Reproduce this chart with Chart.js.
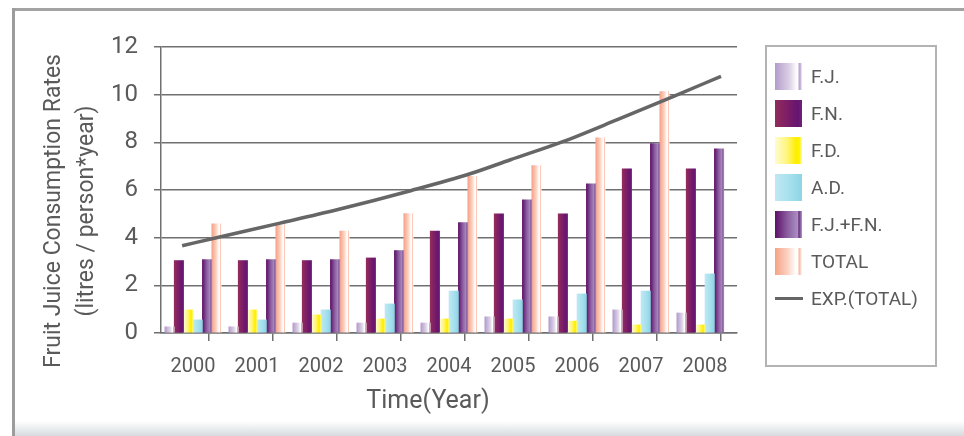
<!DOCTYPE html>
<html>
<head>
<meta charset="utf-8">
<script src="https://cdn.jsdelivr.net/npm/chart.js@4.4.1/dist/chart.umd.min.js"></script>
<style>
  html, body { margin: 0; padding: 0; background: #ffffff; }
  #wrap { position: relative; width: 964px; height: 436px; overflow: hidden; background: #fff; }
  .abs { position: absolute; }
  #c { position: absolute; left: 0; top: 0; }
  .lg-item { position: absolute; left: 775px; height: 27px; font-family: Roboto, sans-serif; font-size: 19px; color: #5a5a5a; }
  .lg-sw { position: absolute; left: 0; top: 0; width: 27px; height: 27px; }
  .lg-tx { position: absolute; left: 36px; top: 0; line-height: 27px; white-space: nowrap; }
</style>
</head>
<body>
<div id="wrap">
  <div class="abs" style="left:13px;top:8px;width:951px;height:3px;background:#a3a3a3;"></div>
  <div class="abs" style="left:12px;top:8px;width:3px;height:428px;background:#9c9c9c;"></div>
  <div class="abs" style="left:15px;top:421px;width:949px;height:15px;background:linear-gradient(#ffffff,#d6dbdf);"></div>
  <div class="abs" style="left:765px;top:45px;width:172px;height:322px;border:2px solid #b3b3b3;box-sizing:border-box;"></div>
  <canvas id="c" width="964" height="436"></canvas>
  <div id="legend"></div>
</div>
<script>
// ---- data ----
const years = ['2000','2001','2002','2003','2004','2005','2006','2007','2008'];
const fjValues    = [0.26, 0.26, 0.42, 0.42, 0.42, 0.68, 0.68, 0.97, 0.84];
const fnValues    = [3.04, 3.04, 3.04, 3.15, 4.28, 5.00, 5.00, 6.89, 6.89];
const fdValues    = [0.97, 0.97, 0.76, 0.59, 0.59, 0.59, 0.50, 0.34, 0.34];
const adValues    = [0.55, 0.55, 0.97, 1.22, 1.76, 1.39, 1.64, 1.76, 2.48];
const fjfnValues  = [3.08, 3.08, 3.08, 3.46, 4.63, 5.59, 6.26, 7.95, 7.73];
const totalValues = [4.58, 4.55, 4.28, 5.01, 6.57, 7.02, 8.19, 10.13, null];
// exponential trend line, read at positions along the year axis (0 = 2000, 8 = 2008)
const expX = [-0.17, 0.40, 1.36, 2.25, 3.40, 4.33, 4.96, 5.79, 6.63, 7.51, 8.25];
const expY = [3.66, 4.02, 4.61, 5.17, 5.97, 6.68, 7.27, 8.04, 8.95, 9.93, 10.77];
const seriesLabels = ['F.J.', 'F.N.', 'F.D.', 'A.D.', 'F.J.+F.N.', 'TOTAL', 'EXP.(TOTAL)'];
const yTicks = [0, 2, 4, 6, 8, 10, 12];
const yTitleLines = ['Fruit Juice Consumption Rates', '(litres / person*year)'];
const xTitle = 'Time(Year)';

// ---- styles ----
const gradStops = [
  [[0,'#b39bcb'],[0.55,'#ddd3e8'],[0.8,'#fdfcfe'],[0.86,'#ffffff'],[0.88,'#b9a2d0'],[0.95,'#c9b8dc'],[1,'#f4f0f8']],
  [[0,'#922c5c'],[0.5,'#7a1c68'],[0.85,'#651570'],[1,'#6f2278']],
  [[0,'#fffbd2'],[0.45,'#fff57a'],[0.78,'#ffee00'],[0.9,'#fff300'],[1,'#fffab0']],
  [[0,'#bfe8f3'],[0.6,'#a3dfec'],[1,'#8ed5e5']],
  [[0,'#5e1068'],[0.45,'#8a5c9f'],[0.85,'#ab90c2'],[0.88,'#6a2a7c'],[0.95,'#8e6aa6'],[1,'#b49acb']],
  [[0,'#f6a285'],[0.45,'#fbd0c0'],[0.78,'#ffffff'],[0.86,'#ffffff'],[0.88,'#f8b39c'],[0.95,'#fbd6c8'],[1,'#ffffff']]
];
const baseColors = ['#c8b8dc','#7a1c68','#fff000','#a3dfec','#8a5c9f','#fbc0a8'];
const barSets = [fjValues, fnValues, fdValues, adValues, fjfnValues, totalValues];

const datasets = barSets.map((vals, i) => ({
  type: 'bar',
  label: seriesLabels[i],
  data: vals.map((v, k) => ({ x: k, y: v })),
  backgroundColor: () => baseColors[i],
  borderWidth: 0,
  barThickness: 9.4,
  order: 1
}));
datasets.push({
  type: 'line',
  label: seriesLabels[6],
  data: expX.map((x, k) => ({ x: x, y: expY[k] })),
  borderColor: '#666666',
  borderWidth: 3.5,
  pointRadius: 0,
  fill: false,
  tension: 0.4,
  cubicInterpolationMode: 'monotone',
  order: 0
});

const gradientPlugin = {
  id: 'barGradients',
  beforeDatasetsDraw(chart) {
    const ctx = chart.ctx;
    chart.data.datasets.forEach((ds, i) => {
      if (ds.type !== 'bar') return;
      const meta = chart.getDatasetMeta(i);
      meta.data.forEach(el => {
        const p = el.getProps(['x', 'width'], true);
        const x0 = p.x - p.width / 2, x1 = p.x + p.width / 2;
        if (!isFinite(x0) || !isFinite(x1)) return;
        const g = ctx.createLinearGradient(x0, 0, x1, 0);
        gradStops[i].forEach(s => g.addColorStop(s[0], s[1]));
        el.options = Object.assign({}, el.options, { backgroundColor: g });
      });
    });
  }
};

const titlePlugin = {
  id: 'axisTitles',
  afterDraw(chart) {
    const ctx = chart.ctx;
    ctx.save();
    ctx.fillStyle = '#5a5a5a';
    ctx.font = '23px Roboto, sans-serif';
    ctx.textAlign = 'center';
    ctx.textBaseline = 'middle';
    const cx = [54, 87];
    yTitleLines.forEach((t, k) => {
      ctx.save();
      ctx.translate(cx[k], 211);
      ctx.rotate(-Math.PI / 2);
      ctx.fillText(t, 0, 0);
      ctx.restore();
    });
    ctx.font = '25px Roboto, sans-serif';
    ctx.fillText(xTitle, 428, 402);
    ctx.restore();
  }
};

const isCenter = v => Math.abs(v - Math.round(v)) < 1e-6;

new Chart(document.getElementById('c'), {
  data: { datasets: datasets },
  plugins: [gradientPlugin, titlePlugin],
  options: {
    responsive: false,
    animation: false,
    devicePixelRatio: 1,
    layout: { padding: { left: 0, top: 47, right: 227, bottom: 0 } },
    plugins: { legend: { display: false }, tooltip: { enabled: false } },
    scales: {
      x: {
        type: 'linear',
        min: -0.5,
        max: years.length - 0.5,
        offset: false,
        afterFit: s => { s.height = 103; },
        afterBuildTicks: s => {
          const t = [];
          for (let k = 0; k <= years.length * 2; k++) t.push({ value: -0.5 + k * 0.5 });
          s.ticks = t;
        },
        grid: {
          display: true, drawOnChartArea: false, drawTicks: true, tickLength: 8,
          tickColor: c => (c.tick && isCenter(c.tick.value)) ? 'rgba(0,0,0,0)' : '#707070',
          color: '#707070', lineWidth: 1.5
        },
        border: { display: true, color: '#707070', width: 1.5 },
        ticks: {
          autoSkip: false, maxRotation: 0, minRotation: 0,
          color: '#5a5a5a', font: { family: 'Roboto, sans-serif', size: 20 }, padding: 14,
          callback: v => isCenter(v) ? years[Math.round(v)] : ''
        }
      },
      y: {
        min: 0,
        max: 12,
        afterFit: s => { s.width = 161; },
        afterBuildTicks: s => { s.ticks = yTicks.map(v => ({ value: v })); },
        grid: { color: '#707070', lineWidth: 1.5, tickLength: 7 },
        border: { display: true, color: '#707070', width: 1.5 },
        ticks: { color: '#5a5a5a', font: { family: 'Roboto, sans-serif', size: 24 }, padding: 16 }
      }
    }
  }
});

// ---- HTML legend ----
const legend = document.getElementById('legend');
seriesLabels.forEach((lab, i) => {
  const item = document.createElement('div');
  item.className = 'lg-item';
  item.style.top = (63 + 37 * i) + 'px';
  const sw = document.createElement('div');
  sw.className = 'lg-sw';
  if (i < 6) {
    sw.style.background = 'linear-gradient(to right,' + gradStops[i].map(s => s[1] + ' ' + (s[0] * 100) + '%').join(',') + ')';
  } else {
    sw.style.height = '3px';
    sw.style.top = '12px';
    sw.style.width = '28px';
    sw.style.background = '#666666';
  }
  const tx = document.createElement('div');
  tx.className = 'lg-tx';
  tx.textContent = lab;
  item.appendChild(sw);
  item.appendChild(tx);
  legend.appendChild(item);
});
</script>
</body>
</html>
